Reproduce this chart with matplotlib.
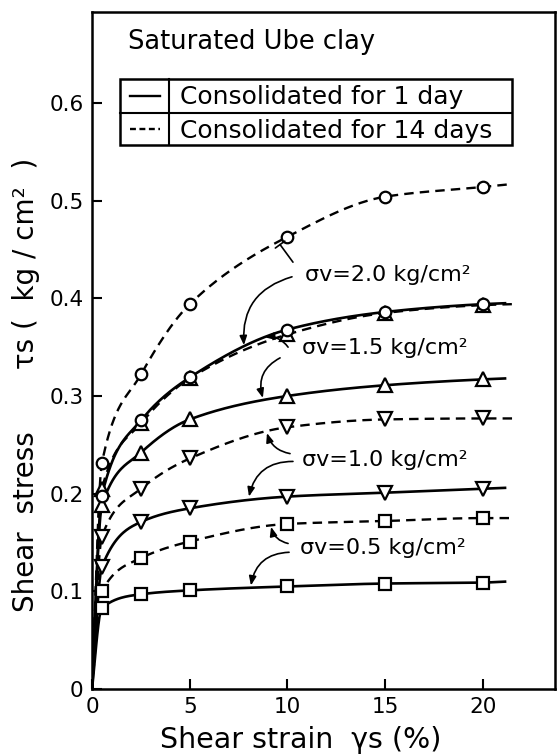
import numpy as np
import matplotlib
matplotlib.use("Agg")
import matplotlib.pyplot as plt
from matplotlib.patches import Rectangle, FancyArrowPatch
from matplotlib.lines import Line2D

plt.rcParams['font.family'] = ['DejaVu Sans']

# ---------------- data ----------------
strain = [0.5, 2.5, 5, 10, 15, 20]

# consolidated for 1 day (solid)
s1_20 = [0.198, 0.275, 0.319, 0.368, 0.386, 0.394]
s1_15 = [0.188, 0.242, 0.276, 0.300, 0.311, 0.317]
s1_10 = [0.125, 0.171, 0.185, 0.197, 0.201, 0.205]
s1_05 = [0.083, 0.097, 0.101, 0.105, 0.108, 0.109]

# consolidated for 14 days (dashed)
s14_20 = [0.231, 0.322, 0.394, 0.463, 0.504, 0.514]
s14_15 = [0.205, 0.272, 0.318, 0.363, 0.385, 0.393]
s14_10 = [0.156, 0.205, 0.236, 0.268, 0.276, 0.277]
s14_05 = [0.100, 0.134, 0.151, 0.169, 0.172, 0.175]

# where each drawn curve ends on the right, and its value there
end_x_1 = 21.2
end_x_14 = 21.5
end_1 = {'2.0': 0.395, '1.5': 0.318, '1.0': 0.206, '0.5': 0.110}
end_14 = {'2.0': 0.517, '1.5': 0.394, '1.0': 0.277, '0.5': 0.175}

stress_labels = ['2.0', '1.5', '1.0', '0.5']
markers = {'2.0': 'o', '1.5': '^', '1.0': 'v', '0.5': 's'}

xticks = [0, 5, 10, 15, 20]
yticks = [0, 0.1, 0.2, 0.3, 0.4, 0.5, 0.6]


def pchip(x, y, xn):
    x = np.asarray(x, float); y = np.asarray(y, float)
    h = np.diff(x); d = np.diff(y) / h
    n = len(x); m = np.zeros(n)
    for k in range(1, n - 1):
        if d[k - 1] * d[k] > 0:
            w1 = 2 * h[k] + h[k - 1]; w2 = h[k] + 2 * h[k - 1]
            m[k] = (w1 + w2) / (w1 / d[k - 1] + w2 / d[k])
    m[0] = ((2 * h[0] + h[1]) * d[0] - h[0] * d[1]) / (h[0] + h[1])
    if m[0] * d[0] <= 0: m[0] = 0
    m[-1] = ((2 * h[-1] + h[-2]) * d[-1] - h[-1] * d[-2]) / (h[-1] + h[-2])
    if m[-1] * d[-1] <= 0: m[-1] = 0
    idx = np.clip(np.searchsorted(x, xn) - 1, 0, n - 2)
    t = (xn - x[idx]) / h[idx]
    h00 = 2 * t**3 - 3 * t**2 + 1; h10 = t**3 - 2 * t**2 + t
    h01 = -2 * t**3 + 3 * t**2; h11 = t**3 - t**2
    return h00 * y[idx] + h10 * h[idx] * m[idx] + h01 * y[idx + 1] + h11 * h[idx] * m[idx + 1]


fig = plt.figure(figsize=(5.58, 7.56), dpi=100)
ax = fig.add_axes([0.165, 0.0886, 0.83, 0.8954])

series_1 = {'2.0': s1_20, '1.5': s1_15, '1.0': s1_10, '0.5': s1_05}
series_14 = {'2.0': s14_20, '1.5': s14_15, '1.0': s14_10, '0.5': s14_05}

for key in stress_labels:
    for vals, ex, ev, dashed in ((series_14[key], end_x_14, end_14[key], True),
                                 (series_1[key], end_x_1, end_1[key], False)):
        cx = [0.0] + strain + [ex]
        cy = [0.0] + list(vals) + [ev]
        xs = np.linspace(0, ex, 400)
        ys = pchip(cx, cy, xs)
        line, = ax.plot(xs, ys, color='black', lw=1.7 if dashed else 1.9,
                        solid_capstyle='butt', zorder=2)
        if dashed:
            line.set_dashes((4, 2.6))
        ax.plot(strain, vals, linestyle='none', marker=markers[key],
                markersize=9.5 if markers[key] in '^v' else 8.3,
                markerfacecolor='white', markeredgecolor='black',
                markeredgewidth=1.6, zorder=4 if markers[key] == 'o' else 3)

ax.set_xlim(0, 23.7)
ax.set_ylim(0, 0.693)
ax.set_xticks(xticks)
ax.set_xticklabels([str(t) for t in xticks])
ax.set_yticks(yticks)
ax.set_yticklabels(['0'] + ['%.1f' % t for t in yticks[1:]])
ax.tick_params(direction='in', length=7, width=1.5, labelsize=15.5, pad=6)
for sp in ax.spines.values():
    sp.set_linewidth(1.8)

ax.set_xlabel('Shear strain  γs (%)', fontsize=20.5)
ax.xaxis.set_label_coords(0.45, -0.054)
ax.set_ylabel('Shear  stress       τs (  kg / cm²  )', fontsize=20)
ax.yaxis.set_label_coords(-0.112, 0.449)

# title text
ax.text(0.078, 0.956, 'Saturated Ube clay', transform=ax.transAxes,
        fontsize=18.5, va='center', ha='left')

# table-style legend
lx0, lx1, ldiv = 0.060, 0.907, 0.166
ly0, lmid, ly1 = 0.803, 0.851, 0.901
ax.add_patch(Rectangle((lx0, ly0), lx1 - lx0, ly1 - ly0, transform=ax.transAxes,
                       fill=False, lw=1.8, edgecolor='black', zorder=5))
ax.add_line(Line2D([lx0, lx1], [lmid, lmid], transform=ax.transAxes, color='black', lw=1.5))
ax.add_line(Line2D([ldiv, ldiv], [ly0, ly1], transform=ax.transAxes, color='black', lw=1.5))
ax.add_line(Line2D([0.082, 0.147], [0.876, 0.876], transform=ax.transAxes, color='black', lw=1.7))
dl = Line2D([0.082, 0.147], [0.827, 0.827], transform=ax.transAxes, color='black', lw=1.7)
dl.set_dashes((2.5, 1.5))
ax.add_line(dl)
ax.text(0.19, 0.874, 'Consolidated for 1 day', transform=ax.transAxes,
        fontsize=18, va='center', ha='left')
ax.text(0.19, 0.825, 'Consolidated for 14 days', transform=ax.transAxes,
        fontsize=18, va='center', ha='left')

# stress labels and leaders
label_pos = {'2.0': (10.9, 0.424), '1.5': (10.74, 0.349), '1.0': (10.74, 0.234), '0.5': (10.64, 0.144)}
for key in stress_labels:
    x, y = label_pos[key]
    ax.text(x, y, 'σv=%s kg/cm²' % key, fontsize=16, va='center', ha='left')

leaders = [
    ((10.28, 0.437), (9.62, 0.455), 0.0, '-['),
    ((10.23, 0.422), (7.77, 0.352), 0.4, '-|>'),
    ((10.03, 0.350), (8.85, 0.360), 0.3, '-|>'),
    ((9.62, 0.339), (8.74, 0.298), 0.4, '-|>'),
    ((10.13, 0.241), (8.95, 0.262), -0.3, '-|>'),
    ((10.28, 0.233), (8.03, 0.197), 0.4, '-|>'),
    ((10.03, 0.149), (9.16, 0.166), -0.3, '-|>'),
    ((10.08, 0.140), (8.13, 0.106), 0.4, '-|>'),
]
for a, b, rad, style in leaders:
    if style == '-[':
        st = '-[,widthB=0.35,lengthB=0.0'
    else:
        st = '-|>,head_length=0.45,head_width=0.18'
    ax.add_patch(FancyArrowPatch(a, b, arrowstyle=st,
                                 connectionstyle='arc3,rad=%s' % rad,
                                 color='black', lw=1.2, shrinkA=0, shrinkB=0,
                                 mutation_scale=12, zorder=4))

fig.savefig('out.png', dpi=100)
